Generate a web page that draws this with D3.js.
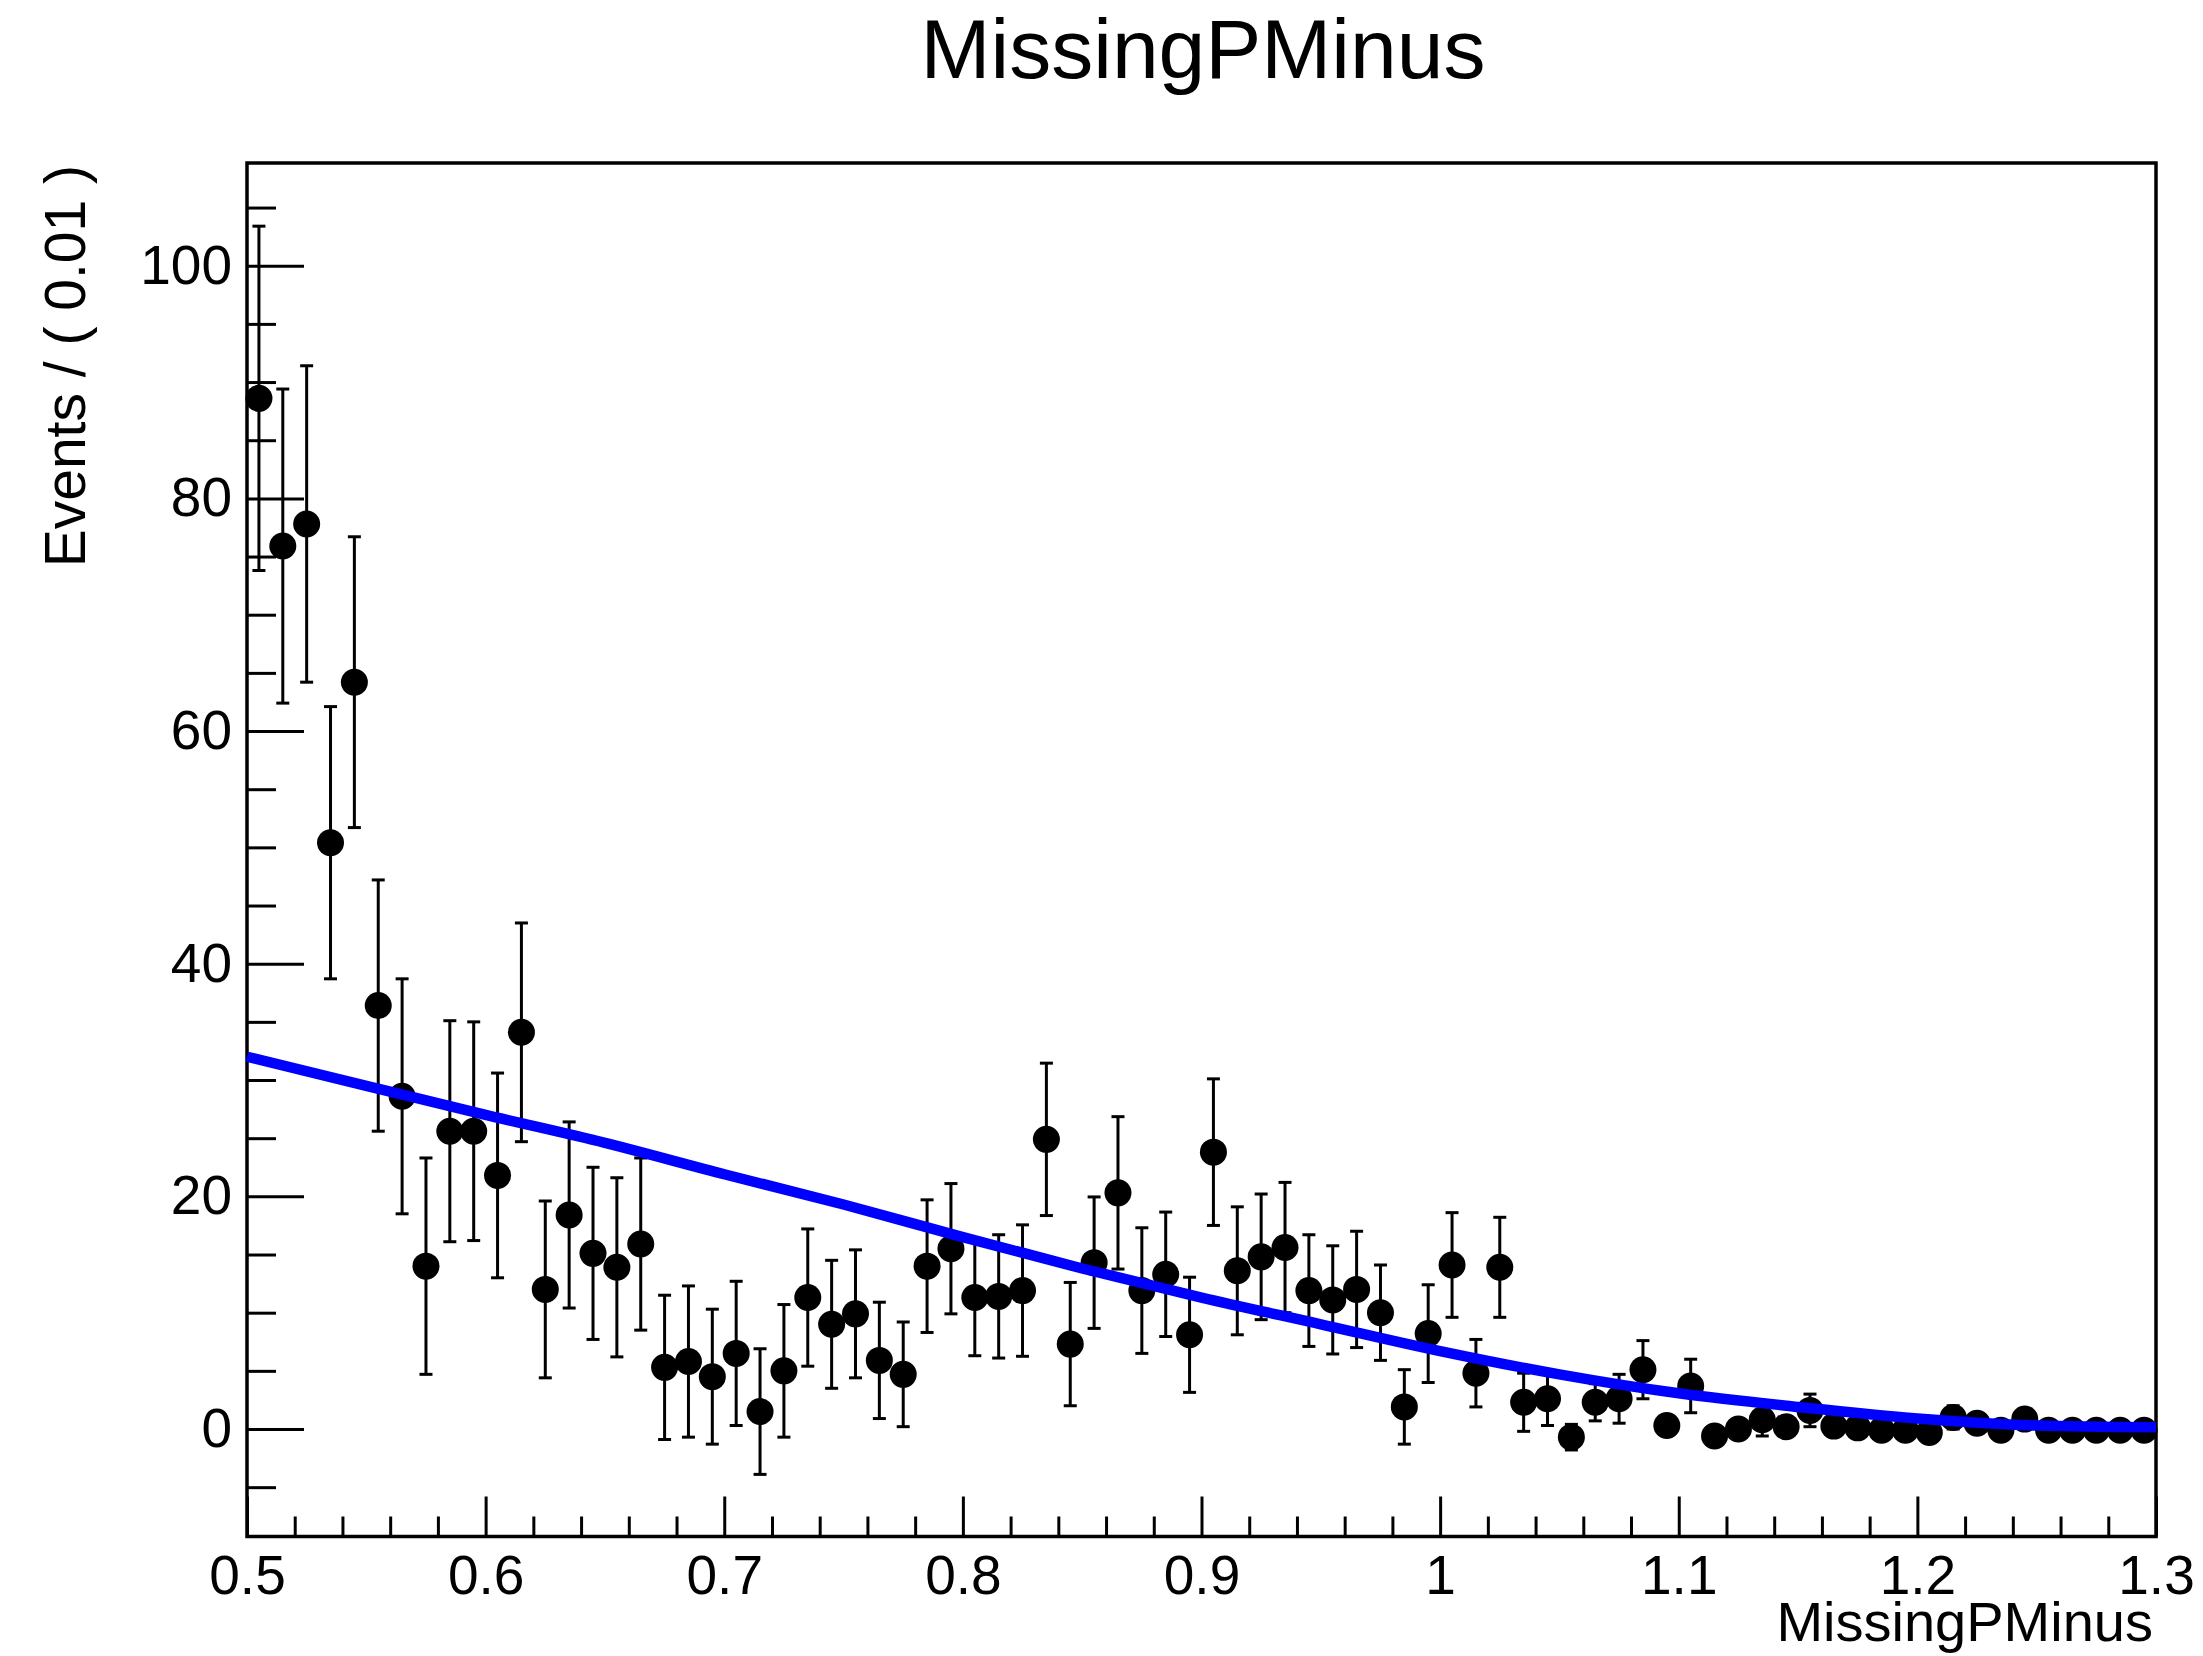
<!DOCTYPE html>
<html lang="en"><head><meta charset="UTF-8">
<title>MissingPMinus</title>
<style type="text/css">
	body {
		margin: 0;
		background-color: #ffffff;
	}
	svg text {
		font-family: 'Liberation Sans', Arial, Helvetica, sans-serif;
		fill: #000000;
	}
</style>
<script src="https://d3js.org/d3.v7.min.js" charset="utf-8"></script>
</head>
<body>
<div id="chart"></div>

<script type="text/javascript">
	// bin centres (width 0.01)
	var binCenters = [
		0.505, 0.515, 0.525, 0.535, 0.545, 0.555, 0.565, 0.575, 0.585, 0.595,
		0.605, 0.615, 0.625, 0.635, 0.645, 0.655, 0.665, 0.675, 0.685, 0.695,
		0.705, 0.715, 0.725, 0.735, 0.745, 0.755, 0.765, 0.775, 0.785, 0.795,
		0.805, 0.815, 0.825, 0.835, 0.845, 0.855, 0.865, 0.875, 0.885, 0.895,
		0.905, 0.915, 0.925, 0.935, 0.945, 0.955, 0.965, 0.975, 0.985, 0.995,
		1.005, 1.015, 1.025, 1.035, 1.045, 1.055, 1.065, 1.075, 1.085, 1.095,
		1.105, 1.115, 1.125, 1.135, 1.145, 1.155, 1.165, 1.175, 1.185, 1.195,
		1.205, 1.215, 1.225, 1.235, 1.245, 1.255, 1.265, 1.275, 1.285, 1.295
	];
	var counts = [
		88.6, 75.9, 77.8, 50.4, 64.2, 36.4, 28.6, 14.0, 25.6, 25.6,
		21.8, 34.1, 12.0, 18.4, 15.1, 13.9, 15.9, 5.3, 5.8, 4.5,
		6.5, 1.5, 5.0, 11.3, 9.0, 9.9, 5.9, 4.7, 14.0, 15.5,
		11.3, 11.4, 11.9, 24.9, 7.3, 14.3, 20.3, 11.9, 13.3, 8.1,
		23.8, 13.6, 14.8, 15.6, 11.9, 11.1, 12.0, 10.0, 1.9, 8.2,
		14.1, 4.8, 13.9, 2.3, 2.6, -0.7, 2.3, 2.6, 5.1, 0.3,
		3.7, -0.6, 0.0, 0.8, 0.2, 1.6, 0.25, 0.1, -0.1, -0.1,
		-0.3, 1.0, 0.5, -0.1, 0.85, -0.1, -0.1, -0.1, -0.1, -0.1
	];
	var errors = [
		14.8, 13.5, 13.6, 11.7, 12.5, 10.8, 10.1, 9.3, 9.5, 9.4,
		8.8, 9.4, 7.6, 8.0, 7.4, 7.7, 7.4, 6.2, 6.5, 5.8,
		6.2, 5.4, 5.7, 5.9, 5.5, 5.5, 5.0, 4.5, 5.7, 5.6,
		5.0, 5.3, 5.65, 6.55, 5.3, 5.65, 6.55, 5.4, 5.35, 4.95,
		6.3, 5.5, 5.4, 5.6, 4.8, 4.65, 5.0, 4.1, 3.2, 4.2,
		4.5, 2.9, 4.3, 2.5, 2.3, 1.1, 1.6, 2.1, 2.5, 0.6,
		2.3, 0.6, 0.6, 1.4, 0.7, 1.4, 0.6, 0.5, 0.5, 0.5,
		0.5, 1.0, 0.7, 0.5, 0.9, 0.5, 0.5, 0.5, 0.5, 0.5
	];

	// fitted curve
	var fitX = [0.50, 0.55, 0.60, 0.65, 0.70, 0.75, 0.80, 0.85, 0.90, 0.95, 1.00, 1.05, 1.10, 1.15, 1.20, 1.25, 1.30];
	var fitY = [32.0, 29.5, 27.0, 24.6, 21.9, 19.3, 16.5, 13.8, 11.3, 9.0, 6.7, 4.7, 3.07, 1.9, 0.9, 0.3, 0.15];

	var xMajorTicks = [0.5, 0.6, 0.7, 0.8, 0.9, 1.0, 1.1, 1.2, 1.3];
	var xTickLabels = ["0.5", "0.6", "0.7", "0.8", "0.9", "1", "1.1", "1.2", "1.3"];
	var xMinorTicks = [0.52, 0.54, 0.56, 0.58, 0.62, 0.64, 0.66, 0.68, 0.72, 0.74, 0.76, 0.78,
		0.82, 0.84, 0.86, 0.88, 0.92, 0.94, 0.96, 0.98, 1.02, 1.04, 1.06, 1.08,
		1.12, 1.14, 1.16, 1.18, 1.22, 1.24, 1.26, 1.28];
	var yMajorTicks = [0, 20, 40, 60, 80, 100];
	var yMinorTicks = [-5, 5, 10, 15, 25, 30, 35, 45, 50, 55, 65, 70, 75, 85, 90, 95, 105];

	var W = 2203, H = 1656;
	// frame edges (window.top is read-only, so use other names)
	var frameL = 247, frameR = 2156, frameT = 163, frameB = 1536.5;

	var svg = d3.select("#chart")
		.append("svg")
		.attr("width", W)
		.attr("height", H)
		.attr("viewBox", "0 0 " + W + " " + H);

	svg.append("rect")
		.attr("width", W).attr("height", H)
		.attr("fill", "#ffffff");

	var x = d3.scaleLinear().domain([0.5, 1.3]).range([frameL, frameR]);
	var y = d3.scaleLinear().domain([-9.24, 108.83]).range([frameB, frameT]);

	// axes (ticks point into the frame)
	var xAxis = d3.axisBottom(x)
		.tickValues(xMajorTicks)
		.tickSizeInner(-40).tickSizeOuter(0)
		.tickPadding(18)
		.tickFormat(function (d, i) { return xTickLabels[i]; });
	var xMinor = d3.axisBottom(x)
		.tickValues(xMinorTicks)
		.tickSizeInner(-20).tickSizeOuter(0)
		.tickFormat("");
	var yAxis = d3.axisLeft(y)
		.tickValues(yMajorTicks)
		.tickSizeInner(-57).tickSizeOuter(0)
		.tickPadding(15)
		.tickFormat(d3.format("d"));
	var yMinor = d3.axisLeft(y)
		.tickValues(yMinorTicks)
		.tickSizeInner(-29).tickSizeOuter(0)
		.tickFormat("");

	function styleAxis(g) {
		g.select(".domain").remove();
		g.selectAll(".tick line").attr("stroke", "#000").attr("stroke-width", 3);
		g.selectAll(".tick text")
			.attr("font-size", 55)
			.attr("font-family", "'Liberation Sans', Arial, Helvetica, sans-serif")
			.attr("fill", "#000");
	}

	svg.append("g").attr("transform", "translate(0," + frameB + ")").call(xAxis).call(styleAxis);
	svg.append("g").attr("transform", "translate(0," + frameB + ")").call(xMinor).call(styleAxis);
	svg.append("g").attr("transform", "translate(" + frameL + ",0)").call(yAxis).call(styleAxis);
	svg.append("g").attr("transform", "translate(" + frameL + ",0)").call(yMinor).call(styleAxis);

	// frame
	svg.append("rect")
		.attr("x", frameL).attr("y", frameT)
		.attr("width", frameR - frameL).attr("height", frameB - frameT)
		.attr("fill", "none")
		.attr("stroke", "#000")
		.attr("stroke-width", 3.5);

	var points = binCenters.map(function (c, i) {
		return { x: c, v: counts[i], e: errors[i] };
	});

	// error bars
	var bars = svg.append("g").attr("class", "errors")
		.attr("stroke", "#000").attr("stroke-width", 3);
	bars.selectAll("line.bar")
		.data(points).enter()
		.append("line").attr("class", "bar")
		.attr("x1", function (d) { return x(d.x); })
		.attr("x2", function (d) { return x(d.x); })
		.attr("y1", function (d) { return y(d.v + d.e); })
		.attr("y2", function (d) { return y(d.v - d.e); });
	bars.selectAll("line.capHi")
		.data(points).enter()
		.append("line").attr("class", "capHi")
		.attr("x1", function (d) { return x(d.x) - 6.5; })
		.attr("x2", function (d) { return x(d.x) + 6.5; })
		.attr("y1", function (d) { return y(d.v + d.e); })
		.attr("y2", function (d) { return y(d.v + d.e); });
	bars.selectAll("line.capLo")
		.data(points).enter()
		.append("line").attr("class", "capLo")
		.attr("x1", function (d) { return x(d.x) - 6.5; })
		.attr("x2", function (d) { return x(d.x) + 6.5; })
		.attr("y1", function (d) { return y(d.v - d.e); })
		.attr("y2", function (d) { return y(d.v - d.e); });

	// markers
	svg.append("g").selectAll("circle")
		.data(points).enter()
		.append("circle")
		.attr("cx", function (d) { return x(d.x); })
		.attr("cy", function (d) { return y(d.v); })
		.attr("r", 13.5)
		.attr("fill", "#000");

	// fit curve
	var fitLine = d3.line()
		.x(function (d, i) { return x(fitX[i]); })
		.y(function (d) { return y(d); })
		.curve(d3.curveMonotoneX);
	svg.append("path")
		.attr("d", fitLine(fitY))
		.attr("fill", "none")
		.attr("stroke", "#0000ff")
		.attr("stroke-width", 10.5);

	// titles
	svg.append("text")
		.attr("x", 1203).attr("y", 78)
		.attr("text-anchor", "middle")
		.attr("font-size", 84)
		.text("MissingPMinus");

	svg.append("text")
		.attr("x", 2153).attr("y", 1641)
		.attr("text-anchor", "end")
		.attr("font-size", 56)
		.text("MissingPMinus");

	svg.append("text")
		.attr("transform", "translate(85," + (frameT + 2) + ") rotate(-90)")
		.attr("text-anchor", "end")
		.attr("font-size", 57)
		.text("Events / ( 0.01 )");
</script>
</body></html>
